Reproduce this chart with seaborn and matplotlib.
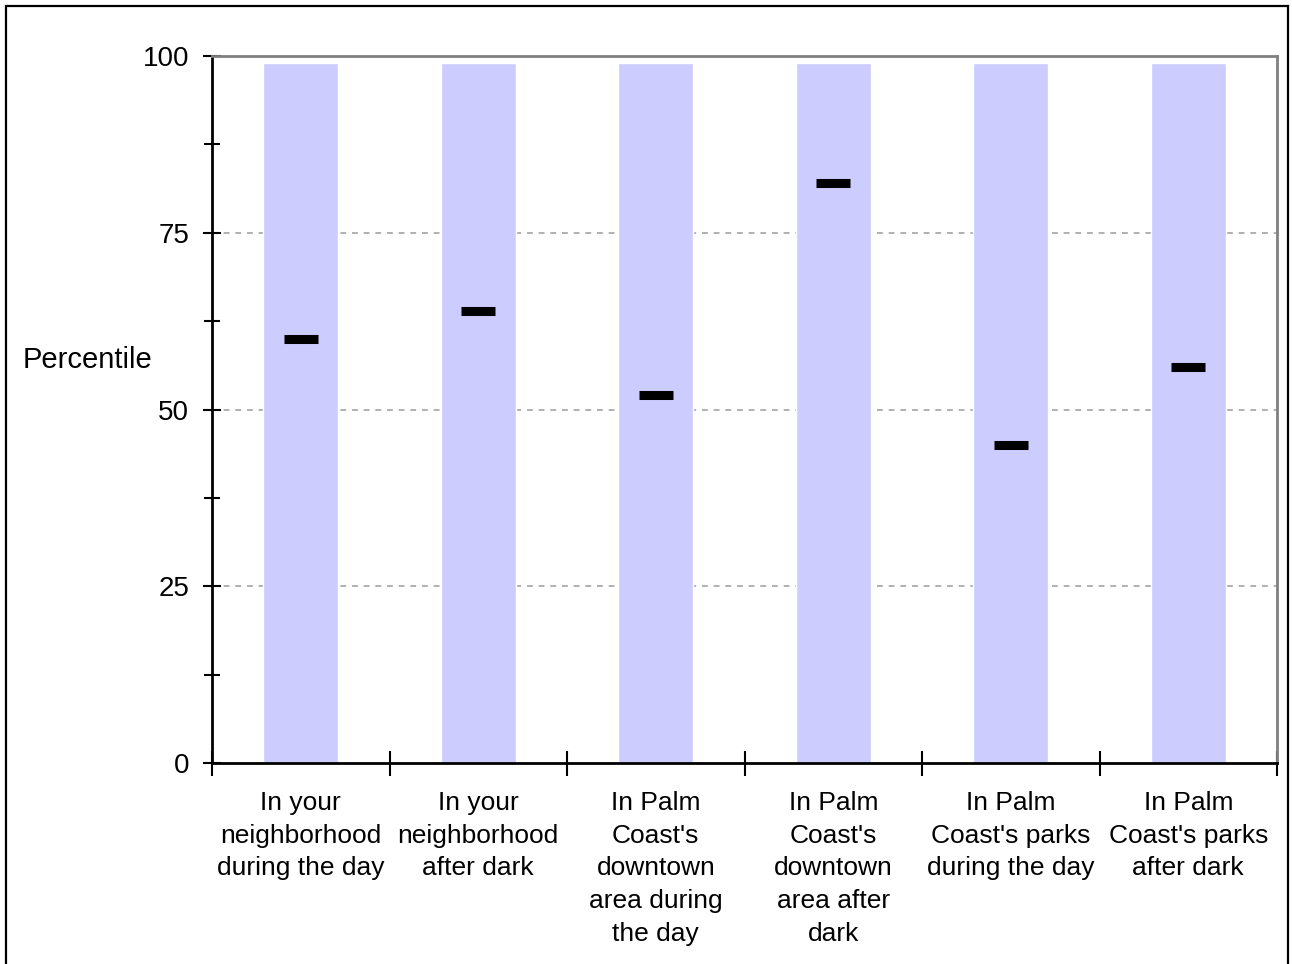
import numpy as np
import pandas as pd
import matplotlib
matplotlib.use("Agg")
import matplotlib.pyplot as plt
import seaborn as sns
from matplotlib.patches import Rectangle
from matplotlib.ticker import MultipleLocator, FixedLocator


categories = [
    "In your\nneighborhood\nduring the day",
    "In your\nneighborhood\nafter dark",
    "In Palm\nCoast's\ndowntown\narea during\nthe day",
    "In Palm\nCoast's\ndowntown\narea after\ndark",
    "In Palm\nCoast's parks\nduring the day",
    "In Palm\nCoast's parks\nafter dark",
]
range_top = [99, 99, 99, 99, 99, 99]
percentile = [60, 64, 52, 82, 45, 56]

df = pd.DataFrame({"cat": categories, "top": range_top, "pct": percentile})

sns.set_style("white")
plt.rcParams["font.family"] = ["Liberation Sans", "DejaVu Sans"]
plt.rcParams.update({"text.color": "black", "axes.labelcolor": "black",
                     "xtick.color": "black", "ytick.color": "black"})

fig = plt.figure(figsize=(12.92, 9.64), dpi=100)
ax = fig.add_axes([0.1641, 0.2085, 0.8243, 0.7334])

sns.barplot(data=df, x="cat", y="top", color="#ccccff", saturation=1,
            width=0.42, ax=ax)
sns.stripplot(data=df, x="cat", y="pct", jitter=False, marker="_",
              color="black", size=25, linewidth=6.5, ax=ax, zorder=5)

ax.set_xlim(-0.5, len(categories) - 0.5)
ax.set_ylim(0, 100)

# grid
for yv in [25, 50, 75]:
    ax.axhline(yv, color="#b0b0b0", linestyle=(0, (3, 3)), linewidth=1.4, zorder=0)

# spines
for s in ["left", "bottom"]:
    ax.spines[s].set_color("black")
    ax.spines[s].set_linewidth(2)
for s in ["top", "right"]:
    ax.spines[s].set_color("#808080")
    ax.spines[s].set_linewidth(2)

# y ticks
ax.yaxis.set_major_locator(MultipleLocator(25))
ax.yaxis.set_minor_locator(MultipleLocator(12.5))
ax.tick_params(axis="y", which="both", direction="inout", length=13, width=1.5,
               labelsize=20, pad=10, left=True)
ax.tick_params(axis="y", which="minor", length=11)

# x ticks: labels at centres, ticks at boundaries
ax.set_xticks(range(len(categories)))
ax.set_xticklabels(categories, fontsize=19, linespacing=1.46)
ax.xaxis.set_minor_locator(FixedLocator(np.arange(-0.5, len(categories), 1.0)))
ax.tick_params(axis="x", which="major", length=0, pad=20)
ax.tick_params(axis="x", which="minor", direction="inout", length=18, width=1.5,
               bottom=True)

ax.set_xlabel("")
ax.set_ylabel("Percentile", fontsize=21, rotation=0, ha="center", va="center")
ax.yaxis.set_label_coords(-0.117, 0.57)

# outer frame
fig.patches.append(Rectangle((6 / 1292, -0.05), 1282 / 1292, 1.05 - 6 / 964,
                             transform=fig.transFigure, fill=False,
                             edgecolor="black", linewidth=1.6))

fig.savefig("out.png", dpi=100)
